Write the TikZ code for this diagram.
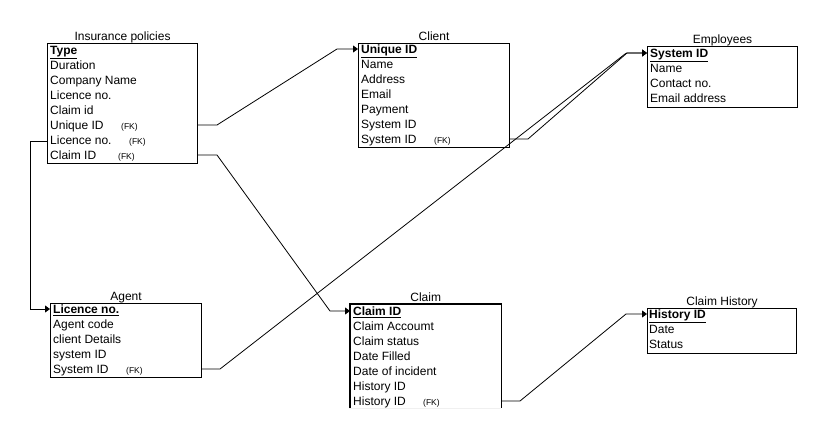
\documentclass[tikz,border=0pt]{standalone}
\usepackage{fontspec}
\setmainfont{Liberation Sans}
\usetikzlibrary{arrows.meta,calc}
\tikzset{
  tbl/.style={draw,line width=1.1pt,inner sep=0,anchor=north west},
  opentbl/.style={inner sep=0,anchor=north west},
  ttl/.style={inner sep=0,anchor=base,font=\fontsize{12}{14}\selectfont},
  rowtxt/.style={inner sep=0,anchor=base west,font=\fontsize{12}{14}\selectfont},
  fktxt/.style={inner sep=0,anchor=base west,font=\fontsize{8.5}{10}\selectfont},
  conn/.style={line width=0.8pt},
  arr/.style={conn,-{Triangle[length=5pt,width=7pt]}}
}
\newcommand\pk[1]{\underline{\textbf{#1}}}
\begin{document}
\begin{tikzpicture}[x=1pt,y=-1pt]
\fill[white] (0,0) rectangle (822,434);
\useasboundingbox (0,0) rectangle (822,434);

% ---------- Insurance policies ----------
\node[tbl,minimum width=150,minimum height=120] (ins) at (47,43) {};
\node[ttl] (insT) at ($(ins.north)+(0,-3)$) {Insurance policies};
\node[rowtxt] (ins1) at (50,50+4.5) {\pk{Type}};
\node[rowtxt] (ins2) at (50,65+4.5) {Duration};
\node[rowtxt] (ins3) at (50,80+4.5) {Company Name};
\node[rowtxt] (ins4) at (50,95+4.5) {Licence no.};
\node[rowtxt] (ins5) at (50,110+4.5) {Claim id};
\node[rowtxt] (ins6) at (50,125+4.5) {Unique ID};
\node[fktxt] (ins6f) at (121,125+4) {(FK)};
\node[rowtxt] (ins7) at (50,140+4.5) {Licence no.};
\node[fktxt] (ins7f) at (129,140+4) {(FK)};
\node[rowtxt] (ins8) at (50,155+4.5) {Claim ID};
\node[fktxt] (ins8f) at (118,155+4) {(FK)};

% ---------- Client ----------
\node[tbl,minimum width=151,minimum height=104] (cli) at (358,43) {};
\node[ttl] (cliT) at ($(cli.north)+(0,-3)$) {Client};
\node[rowtxt] (cli1) at (361,49+4.5) {\pk{Unique ID}};
\node[rowtxt] (cli2) at (361,64+4.5) {Name};
\node[rowtxt] (cli3) at (361,79+4.5) {Address};
\node[rowtxt] (cli4) at (361,94+4.5) {Email};
\node[rowtxt] (cli5) at (361,109+4.5) {Payment};
\node[rowtxt] (cli6) at (361,124+4.5) {System ID};
\node[rowtxt] (cli7) at (361,139+4.5) {System ID};
\node[fktxt] (cli7f) at (434,139+4) {(FK)};

% ---------- Employees ----------
\node[tbl,minimum width=150,minimum height=61] (emp) at (647,46) {};
\node[ttl] (empT) at ($(emp.north)+(0,-3)$) {Employees};
\node[rowtxt] (emp1) at (650,53+4.5) {\pk{System ID}};
\node[rowtxt] (emp2) at (650,68+4.5) {Name};
\node[rowtxt] (emp3) at (650,83+4.5) {Contact no.};
\node[rowtxt] (emp4) at (650,98+4.5) {Email address};

% ---------- Agent ----------
\node[tbl,minimum width=151,minimum height=74] (agt) at (50,303) {};
\node[ttl] (agtT) at ($(agt.north)+(0,-3)$) {Agent};
\node[rowtxt] (agt1) at (53,309+4.5) {\pk{Licence no.}};
\node[rowtxt] (agt2) at (53,324+4.5) {Agent code};
\node[rowtxt] (agt3) at (53,339+4.5) {client Details};
\node[rowtxt] (agt4) at (53,354+4.5) {system ID};
\node[rowtxt] (agt5) at (53,369+4.5) {System ID};
\node[fktxt] (agt5f) at (126,369+4) {(FK)};

% ---------- Claim ----------
\node[opentbl,minimum width=151,minimum height=104] (clm) at (350,304) {};
\draw[line width=1.1pt] (clm.south west) -- (clm.north west) -- (clm.north east) -- (clm.south east);
\draw[gray!12,line width=0.8pt] (clm.south west) -- (clm.south east);
\node[ttl] (clmT) at ($(clm.north)+(0,-3)$) {Claim};
\node[rowtxt] (clm1) at (353,311+4.5) {\pk{Claim ID}};
\node[rowtxt] (clm2) at (353,326+4.5) {Claim Accoumt};
\node[rowtxt] (clm3) at (353,341+4.5) {Claim status};
\node[rowtxt] (clm4) at (353,356+4.5) {Date Filled};
\node[rowtxt] (clm5) at (353,371+4.5) {Date of incident};
\node[rowtxt] (clm6) at (353,386+4.5) {History ID};
\node[rowtxt] (clm7) at (353,401+4.5) {History ID};
\node[fktxt] (clm7f) at (423,401+4) {(FK)};

% ---------- Claim History ----------
\node[tbl,minimum width=149,minimum height=45] (chs) at (647,308) {};
\node[ttl] (chsT) at ($(chs.north)+(0,-3)$) {Claim History};
\node[rowtxt] (chs1) at (649,314+4.5) {\pk{History ID}};
\node[rowtxt] (chs2) at (649,329+4.5) {Date};
\node[rowtxt] (chs3) at (649,344+4.5) {Status};

% ---------- connector bend points ----------
\coordinate (a1) at (217,125);
\coordinate (a2) at (337,49);
\coordinate (b1) at (30,141);
\coordinate (b2) at (30,309);
\coordinate (c1) at (217,155);
\coordinate (c2) at (330,311);
\coordinate (d1) at (528,139);
\coordinate (d2) at (627,53);
\coordinate (e1) at (220,369);
\coordinate (e2) at (625,54);
\coordinate (f1) at (520,401);
\coordinate (f2) at (626,314);

% ---------- connectors ----------
\draw[arr] (ins.east |- a1) -- (a1) -- (a2) -- (cli.west |- a2);
\draw[arr] (ins.west |- b1) -- (b1) -- (b2) -- (agt.west |- b2);
\draw[arr] (ins.east |- c1) -- (c1) -- (c2) -- (clm.west |- c2);
\draw[arr] (cli.east |- d1) -- (d1) -- (d2) -- (emp.west |- d2);
\draw[arr] (agt.east |- e1) -- (e1) -- (e2) -- (d2) -- (emp.west |- d2);
\draw[arr] (clm.east |- f1) -- (f1) -- (f2) -- (chs.west |- f2);
\end{tikzpicture}
\end{document}
